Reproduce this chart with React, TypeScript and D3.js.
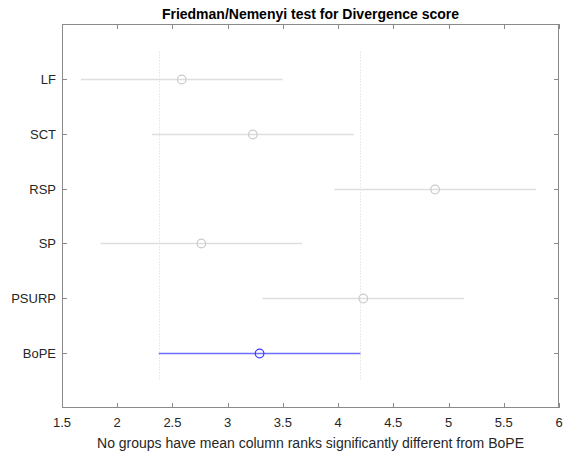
import React from 'react';
import * as d3 from 'd3';

// Friedman/Nemenyi mean ranks
const groups = ['BoPE', 'PSURP', 'SP', 'RSP', 'SCT', 'LF'];
const meanRanks = [3.289, 4.228, 2.762, 4.878, 3.228, 2.584];
const halfWidth = 0.913;
const controlGroup = 'BoPE';
const xTicks = [1.5, 2, 2.5, 3, 3.5, 4, 4.5, 5, 5.5, 6];

const W = 566;
const H = 456;
const M = { top: 24, right: 7, bottom: 48, left: 62 };

const FONT = '"Liberation Sans", Arial, Helvetica, sans-serif';
const TXT = '#262626';
const AXIS = '#8a8a8a';

export default function App() {
  const innerW = W - M.left - M.right;
  const innerH = H - M.top - M.bottom;

  const x = d3.scaleLinear().domain([1.5, 6]).range([M.left, M.left + innerW]);
  // groups sit at 1..6, bottom to top
  const y = d3.scaleLinear().domain([0, 7]).range([M.top + innerH, M.top]);

  const ctrlIdx = groups.indexOf(controlGroup);
  const ctrlLo = meanRanks[ctrlIdx] - halfWidth;
  const ctrlHi = meanRanks[ctrlIdx] + halfWidth;

  const tickLen = 5;

  return (
    <svg
      width={W}
      height={H}
      style={{ position: 'absolute', left: 0, top: 0, background: '#fff' }}
      fontFamily={FONT}
    >
      <rect x={0} y={0} width={W} height={H} fill="#fff" />

      {/* dotted reference lines at the control interval */}
      {[ctrlLo, ctrlHi].map((v, i) => (
        <line
          key={`ref${i}`}
          x1={Math.round(x(v)) + 0.5}
          x2={Math.round(x(v)) + 0.5}
          y1={y(6.5)}
          y2={y(0.5)}
          stroke="#d6d6d6"
          strokeDasharray="1,2"
        />
      ))}

      {/* intervals + mean markers */}
      {groups.map((g, i) => {
        const isCtrl = g === controlGroup;
        const cy = Math.round(y(i + 1)) + 0.5;
        const m = meanRanks[i];
        return (
          <g key={g}>
            <line
              x1={x(m - halfWidth)}
              x2={x(m + halfWidth)}
              y1={cy}
              y2={cy}
              stroke={isCtrl ? '#6e6eff' : '#dedede'}
              strokeWidth={1.5}
            />
            <circle
              cx={x(m)}
              cy={cy}
              r={4.3}
              fill="none"
              stroke={isCtrl ? '#3b3bff' : '#cbcbcb'}
              strokeWidth={1.2}
            />
          </g>
        );
      })}

      {/* axes box */}
      <rect
        x={M.left + 0.5}
        y={M.top + 0.5}
        width={innerW - 1}
        height={innerH - 1}
        fill="none"
        stroke={AXIS}
      />

      {/* x ticks (bottom and top, pointing inward) */}
      {xTicks.map((t) => {
        const tx = Math.round(x(t)) + 0.5;
        return (
          <g key={`xt${t}`}>
            <line x1={tx} x2={tx} y1={M.top + innerH} y2={M.top + innerH - tickLen} stroke={AXIS} />
            <line x1={tx} x2={tx} y1={M.top} y2={M.top + tickLen} stroke={AXIS} />
            <text
              x={x(t)}
              y={M.top + innerH + 19}
              textAnchor="middle"
              fontSize={13}
              fill={TXT}
            >
              {d3.format('~g')(t)}
            </text>
          </g>
        );
      })}

      {/* y ticks and group labels */}
      {groups.map((g, i) => {
        const ty = Math.round(y(i + 1)) + 0.5;
        return (
          <g key={`yt${g}`}>
            <line x1={M.left} x2={M.left + tickLen} y1={ty} y2={ty} stroke={AXIS} />
            <line
              x1={M.left + innerW}
              x2={M.left + innerW - tickLen}
              y1={ty}
              y2={ty}
              stroke={AXIS}
            />
            <text
              x={M.left - 6}
              y={ty}
              dy="0.35em"
              textAnchor="end"
              fontSize={13}
              fill={TXT}
            >
              {g}
            </text>
          </g>
        );
      })}

      {/* title */}
      <text
        x={M.left + innerW / 2}
        y={19}
        textAnchor="middle"
        fontSize={14}
        fontWeight="bold"
        fill="#000"
      >
        Friedman/Nemenyi test for Divergence score
      </text>

      {/* x label */}
      <text
        x={M.left + innerW / 2}
        y={448}
        textAnchor="middle"
        fontSize={14}
        fill={TXT}
      >
        No groups have mean column ranks significantly different from {controlGroup}
      </text>
    </svg>
  );
}
